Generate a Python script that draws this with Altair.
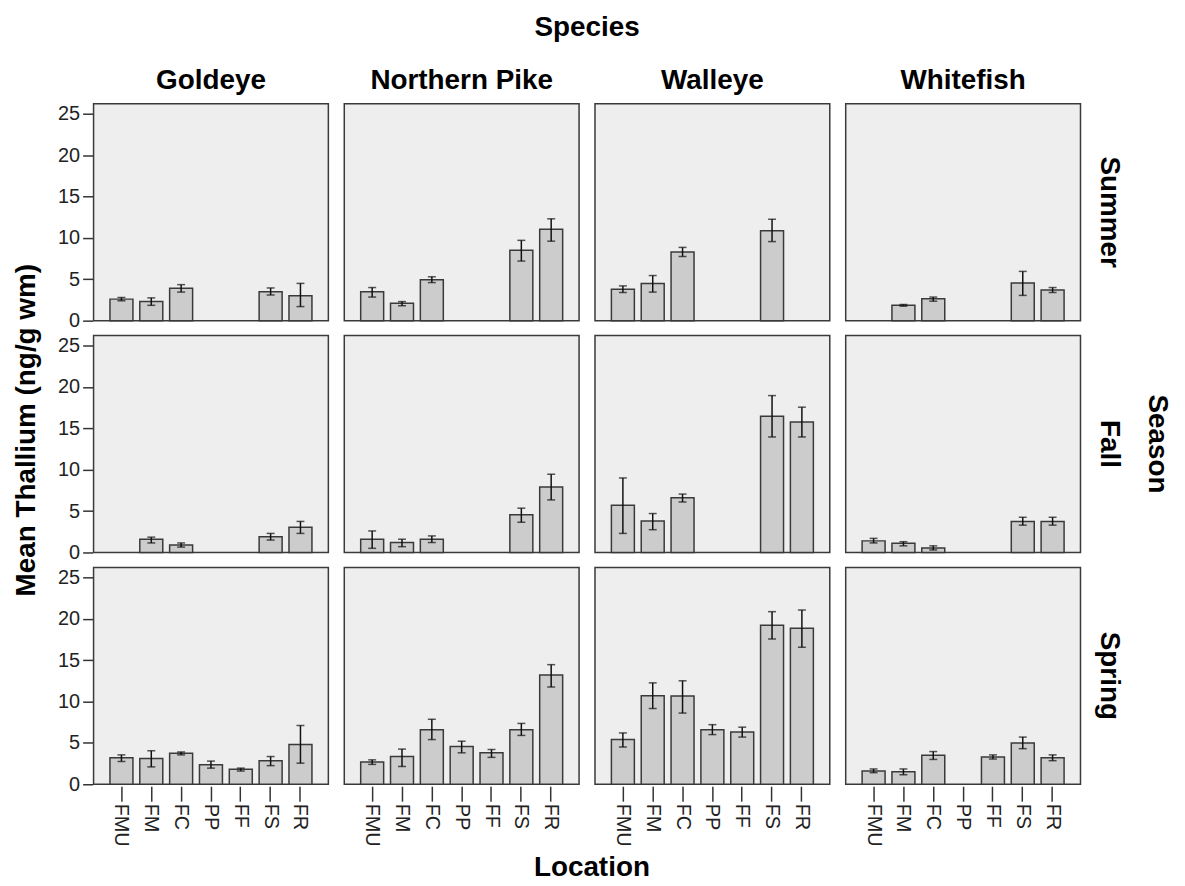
import altair as alt
import pandas as pd

species = ["Goldeye", "Northern Pike", "Walleye", "Whitefish"]
seasons = ["Summer", "Fall", "Spring"]
locations = ["FMU", "FM", "FC", "PP", "FF", "FS", "FR"]

# Summer
summer_goldeye = [2.6, 2.3, 3.9, None, None, 3.5, 3.0]
summer_goldeye_lo = [2.4, 1.85, 3.45, None, None, 3.1, 1.7]
summer_goldeye_hi = [2.8, 2.75, 4.35, None, None, 3.95, 4.5]
summer_pike = [3.5, 2.1, 4.95, None, None, 8.5, 11.05]
summer_pike_lo = [2.85, 1.8, 4.6, None, None, 7.2, 9.6]
summer_pike_hi = [4.0, 2.3, 5.3, None, None, 9.7, 12.3]
summer_walleye = [3.8, 4.5, 8.3, None, None, 10.85, None]
summer_walleye_lo = [3.4, 3.45, 7.75, None, None, 9.55, None]
summer_walleye_hi = [4.2, 5.45, 8.85, None, None, 12.25, None]
summer_whitefish = [None, 1.85, 2.65, None, None, 4.55, 3.7]
summer_whitefish_lo = [None, 1.75, 2.35, None, None, 3.05, 3.4]
summer_whitefish_hi = [None, 1.95, 2.85, None, None, 5.95, 4.0]

# Fall
fall_goldeye = [None, 1.6, 0.9, None, None, 1.9, 3.05]
fall_goldeye_lo = [None, 1.15, 0.65, None, None, 1.5, 2.3]
fall_goldeye_hi = [None, 1.85, 1.15, None, None, 2.3, 3.75]
fall_pike = [1.6, 1.2, 1.6, None, None, 4.55, 7.9]
fall_pike_lo = [0.5, 0.7, 1.2, None, None, 3.65, 6.35]
fall_pike_hi = [2.6, 1.6, 2.0, None, None, 5.35, 9.45]
fall_walleye = [5.7, 3.8, 6.6, None, None, 16.45, 15.75]
fall_walleye_lo = [2.3, 2.75, 6.1, None, None, 13.95, 13.95]
fall_walleye_hi = [9.0, 4.7, 7.05, None, None, 18.95, 17.55]
fall_whitefish = [1.4, 1.1, 0.55, None, None, 3.75, 3.75]
fall_whitefish_lo = [1.15, 0.8, 0.3, None, None, 3.3, 3.3]
fall_whitefish_hi = [1.7, 1.3, 0.8, None, None, 4.25, 4.25]

# Spring
spring_goldeye = [3.2, 3.1, 3.75, 2.35, 1.8, 2.85, 4.8]
spring_goldeye_lo = [2.75, 2.1, 3.55, 1.95, 1.6, 2.25, 2.55]
spring_goldeye_hi = [3.55, 4.05, 3.9, 2.8, 1.95, 3.35, 7.1]
spring_pike = [2.7, 3.35, 6.6, 4.55, 3.8, 6.6, 13.2]
spring_pike_lo = [2.4, 2.15, 5.4, 3.8, 3.25, 5.9, 11.75]
spring_pike_hi = [2.95, 4.25, 7.85, 5.2, 4.2, 7.35, 14.45]
spring_walleye = [5.4, 10.7, 10.65, 6.6, 6.3, 19.2, 18.85]
spring_walleye_lo = [4.5, 9.15, 8.6, 6.0, 5.7, 17.55, 16.55]
spring_walleye_hi = [6.2, 12.25, 12.5, 7.2, 6.9, 20.85, 21.05]
spring_whitefish = [1.6, 1.5, 3.5, None, 3.3, 5.0, 3.2]
spring_whitefish_lo = [1.4, 1.15, 3.0, None, 3.05, 4.3, 2.85]
spring_whitefish_hi = [1.85, 1.85, 3.95, None, 3.55, 5.7, 3.55]

panels = [
    ("Summer", "Goldeye", summer_goldeye, summer_goldeye_lo, summer_goldeye_hi),
    ("Summer", "Northern Pike", summer_pike, summer_pike_lo, summer_pike_hi),
    ("Summer", "Walleye", summer_walleye, summer_walleye_lo, summer_walleye_hi),
    ("Summer", "Whitefish", summer_whitefish, summer_whitefish_lo, summer_whitefish_hi),
    ("Fall", "Goldeye", fall_goldeye, fall_goldeye_lo, fall_goldeye_hi),
    ("Fall", "Northern Pike", fall_pike, fall_pike_lo, fall_pike_hi),
    ("Fall", "Walleye", fall_walleye, fall_walleye_lo, fall_walleye_hi),
    ("Fall", "Whitefish", fall_whitefish, fall_whitefish_lo, fall_whitefish_hi),
    ("Spring", "Goldeye", spring_goldeye, spring_goldeye_lo, spring_goldeye_hi),
    ("Spring", "Northern Pike", spring_pike, spring_pike_lo, spring_pike_hi),
    ("Spring", "Walleye", spring_walleye, spring_walleye_lo, spring_walleye_hi),
    ("Spring", "Whitefish", spring_whitefish, spring_whitefish_lo, spring_whitefish_hi),
]

rows = []
for season, sp, m, lo, hi in panels:
    for loc, a, b, c in zip(locations, m, lo, hi):
        if a is not None:
            rows.append({"Season": season, "Species": sp, "Location": loc,
                         "mean": a, "lo": b, "hi": c})
df = pd.DataFrame(rows)

FONT = "Liberation Sans"

x_enc = alt.X("Location:N", sort=locations,
              scale=alt.Scale(domain=locations, paddingInner=0.23, paddingOuter=0.55),
              axis=alt.Axis(title=None, labelAngle=90, tickSize=15, labelPadding=2,
                            domain=False, grid=False, labelFontSize=20,
                            labelFont=FONT, labelColor="#222222",
                            tickColor="#333333", tickWidth=1.5))
y_scale = alt.Scale(domain=[0, 26.2], nice=False, zero=True)
y_axis = alt.Axis(title=None, values=[0, 5, 10, 15, 20, 25], tickSize=10,
                  labelPadding=3, domain=False, grid=False, labelFontSize=20,
                  labelFont=FONT, labelColor="#222222", tickColor="#333333",
                  tickWidth=1.5)

bars = alt.Chart().mark_bar(fill="#cccccc", stroke="#3a3a3a", strokeWidth=1.5).encode(
    x=x_enc, y=alt.Y("mean:Q", scale=y_scale, axis=y_axis))
rule = alt.Chart().mark_rule(color="#111111", strokeWidth=1.5).encode(
    x=alt.X("Location:N", sort=locations), y=alt.Y("lo:Q"), y2="hi:Q")
cap_lo = alt.Chart().mark_tick(color="#111111", size=8, thickness=1.5).encode(
    x=alt.X("Location:N", sort=locations), y=alt.Y("lo:Q"))
cap_hi = alt.Chart().mark_tick(color="#111111", size=8, thickness=1.5).encode(
    x=alt.X("Location:N", sort=locations), y=alt.Y("hi:Q"))

layered = alt.layer(bars, rule, cap_lo, cap_hi, data=df).properties(width=236, height=218)

faceted = layered.facet(
    column=alt.Column("Species:N", sort=species, title="Species",
                      header=alt.Header(labelFont=FONT, labelFontSize=28, labelFontWeight="bold",
                                        labelColor="#000000", labelPadding=8,
                                        titleFont=FONT, titleFontSize=28, titleFontWeight="bold",
                                        titleColor="#000000", titlePadding=15)),
    row=alt.Row("Season:N", sort=seasons, title="Season",
                header=alt.Header(labelOrient="right", titleOrient="right",
                                  labelAngle=90, titleAngle=90,
                                  labelFont=FONT, labelFontSize=28, labelFontWeight="bold",
                                  labelColor="#000000", labelPadding=14,
                                  titleFont=FONT, titleFontSize=28, titleFontWeight="bold",
                                  titleColor="#000000", titlePadding=10)),
    spacing={"row": 12, "column": 14},
).properties(
    title=alt.TitleParams("Mean Thallium (ng/g wm)", orient="left", anchor="middle",
                          font=FONT, fontSize=28, fontWeight="bold", color="#000000",
                          offset=17)
)

chart = alt.vconcat(faceted).properties(
    title=alt.TitleParams("Location", orient="bottom", anchor="middle",
                          font=FONT, fontSize=28, fontWeight="bold", color="#000000",
                          offset=8),
    padding={"left": 4, "top": 4, "right": 6, "bottom": 2},
).configure_view(
    fill="#eeeeee", stroke="#3a3a3a", strokeWidth=1.5
).configure_concat(spacing=0)

chart.save("out.html", embed_options={"renderer": "svg", "actions": False})
